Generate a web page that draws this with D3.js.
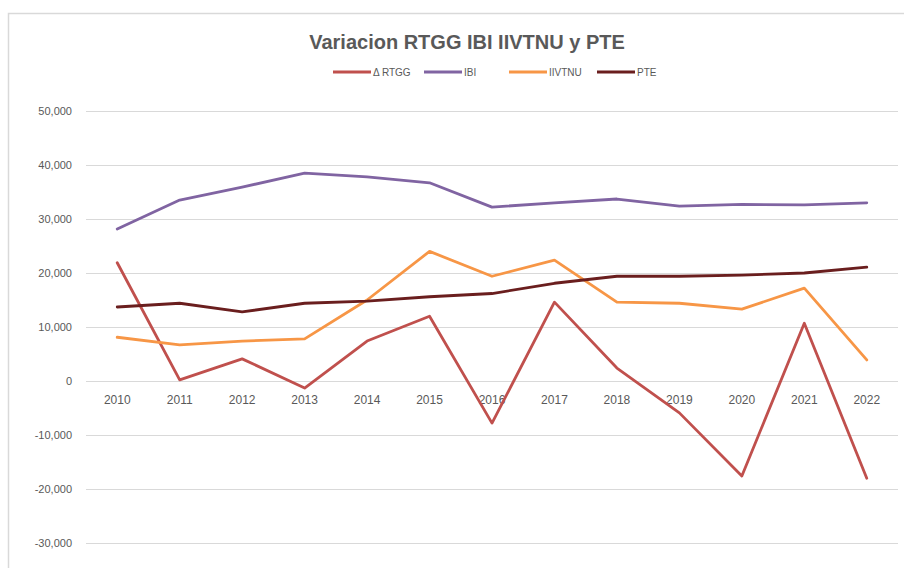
<!DOCTYPE html>
<html><head><meta charset="utf-8">
<script src="https://cdn.jsdelivr.net/npm/d3@7"></script>
<style>body{margin:0;background:#fff}svg{display:block}</style>
</head><body>
<svg id="c" width="904" height="568"></svg>
<script>
const years = ["2010","2011","2012","2013","2014","2015","2016","2017","2018","2019","2020","2021","2022"];
const rtgg   = [21900, 200, 4100, -1300, 7400, 12000, -7800, 14600, 2400, -5900, -17600, 10700, -18000];
const ibi    = [28150, 33500, 35900, 38500, 37800, 36700, 32200, 33000, 33700, 32400, 32700, 32600, 33000];
const iivtnu = [8100, 6700, 7400, 7800, 15000, 24000, 19400, 22400, 14600, 14400, 13300, 17200, 3900];
const pte    = [13700, 14400, 12800, 14400, 14800, 15600, 16200, 18100, 19400, 19400, 19600, 20000, 21100];
const seriesNames = ["\u0394 RTGG", "IBI", "IIVTNU", "PTE"];
const seriesColors = ["#C0504D", "#8064A2", "#F79646", "#6A1E1E"];
const yTicks = [50000, 40000, 30000, 20000, 10000, 0, -10000, -20000, -30000];

const series = [rtgg, ibi, iivtnu, pte].map((v,i)=>({name:seriesNames[i], color:seriesColors[i], values:v}));
const svg = d3.select("#c");
const font = "Liberation Sans, Arial, sans-serif";

svg.append("rect").attr("x",8.5).attr("y",13.5).attr("width",1000).attr("height",1000)
  .attr("fill","#fff").attr("stroke","#d9d9d9").attr("stroke-width",1.5);

const x = d3.scaleBand().domain(years).range([86, 898]);
const y = d3.scaleLinear().domain([-30000, 50000]).range([543, 111]);

const fmt = v => d3.format(",")(v).replace("\u2212", "-");
const yAxis = svg.append("g").attr("transform","translate(86,0)")
  .call(d3.axisLeft(y).tickValues(yTicks).tickSize(-812).tickFormat(fmt).tickPadding(14));
yAxis.select(".domain").remove();
yAxis.selectAll("line").attr("stroke","#d9d9d9").attr("stroke-width",1);
yAxis.selectAll("text").attr("fill","#595959").style("font-family",font).style("font-size","11px");

const xAxis = svg.append("g").attr("transform",`translate(0,${y(0)})`)
  .call(d3.axisBottom(x).tickSize(0).tickPadding(14));
xAxis.select(".domain").remove();
xAxis.selectAll("text").attr("fill","#595959").style("font-family",font).style("font-size","12px");

const line = d3.line().x((d,i)=>x(years[i])+x.bandwidth()/2).y(d=>y(d));
svg.append("g").selectAll("path").data(series).join("path")
  .attr("d",d=>line(d.values)).attr("fill","none").attr("stroke",d=>d.color)
  .attr("stroke-width",2.8).attr("stroke-linejoin","round").attr("stroke-linecap","round");

svg.append("text").attr("x",467).attr("y",49).attr("text-anchor","middle")
  .attr("fill","#595959").style("font-family",font).style("font-size","20px").style("font-weight","bold")
  .text("Variacion RTGG IBI IIVTNU y PTE");

const legX = [333, 424, 509, 597];
const lg = svg.append("g").selectAll("g").data(series).join("g")
  .attr("transform",(d,i)=>`translate(${legX[i]},72)`);
lg.append("line").attr("x1",0).attr("x2",38).attr("stroke",d=>d.color).attr("stroke-width",2.8);
lg.append("text").attr("x",40).attr("y",4).attr("fill","#595959")
  .style("font-family",font).style("font-size","10px").text(d=>d.name);
</script>
</body></html>
